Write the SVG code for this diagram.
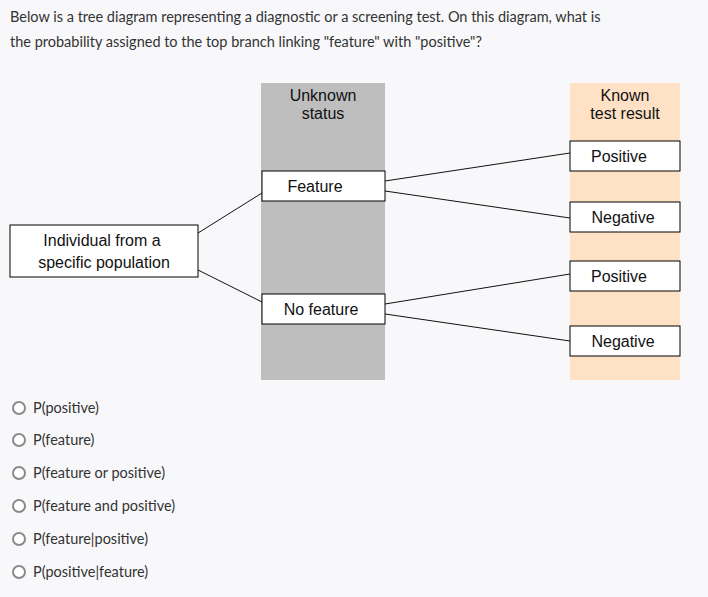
<svg xmlns="http://www.w3.org/2000/svg" width="708" height="597" viewBox="0 0 708 597">
<style>
.q{font-family:Lato,"Liberation Sans",sans-serif;font-size:14.5px;fill:#333}
.t{font-family:"Liberation Sans",Arial,sans-serif;font-size:16px;fill:#111;text-anchor:middle}
.b{fill:#fff;stroke:#000;stroke-width:1}
.c{stroke:#111;stroke-width:1;fill:none}
.r{fill:#fff;stroke:#8a8a8a;stroke-width:2}
</style>
<rect width="708" height="597" fill="#f8f8fa"/>
<text class="q" x="10" y="22">Below is a tree diagram representing a diagnostic or a screening test. On this diagram, what is</text>
<text class="q" x="10" y="47">the probability assigned to the top branch linking "feature" with "positive"?</text>
<rect x="261" y="83" width="124" height="297" fill="#bebebe"/>
<rect x="570" y="83" width="110" height="297" fill="#ffe2c6"/>
<text class="t" x="323" y="101">Unknown</text>
<text class="t" x="323" y="119">status</text>
<text class="t" x="625" y="101">Known</text>
<text class="t" x="625" y="119">test result</text>
<g id="connectors">
<line class="c" x1="198" y1="233" x2="262" y2="193"/>
<line class="c" x1="198" y1="270" x2="262" y2="302"/>
<line class="c" x1="385" y1="181" x2="570" y2="153"/>
<line class="c" x1="385" y1="191" x2="570" y2="218"/>
<line class="c" x1="385" y1="304" x2="570" y2="274"/>
<line class="c" x1="385" y1="314" x2="570" y2="341"/>
</g>
<g id="individual"><rect class="b" x="10" y="225" width="188" height="52"/><text class="t" x="102" y="246">Individual  from a</text><text class="t" x="104" y="268">specific population</text></g>
<g id="feature"><rect class="b" x="262" y="171" width="123" height="30"/><text class="t" x="315" y="192">Feature</text></g>
<g id="nofeature"><rect class="b" x="262" y="294" width="123" height="30"/><text class="t" x="321" y="315">No feature</text></g>
<g id="pos1"><rect class="b" x="570" y="141" width="110" height="30"/><text class="t" x="619" y="162">Positive</text></g>
<g id="neg1"><rect class="b" x="570" y="202" width="110" height="30"/><text class="t" x="623" y="223">Negative</text></g>
<g id="pos2"><rect class="b" x="570" y="261" width="110" height="30"/><text class="t" x="619" y="282">Positive</text></g>
<g id="neg2"><rect class="b" x="570" y="326" width="110" height="30"/><text class="t" x="623" y="347">Negative</text></g>
<g id="options">
<circle class="r" cx="19" cy="408" r="6"/><text class="q" x="33" y="413">P(positive)</text>
<circle class="r" cx="19" cy="440" r="6"/><text class="q" x="33" y="445">P(feature)</text>
<circle class="r" cx="19" cy="473" r="6"/><text class="q" x="33" y="478">P(feature or positive)</text>
<circle class="r" cx="19" cy="506" r="6"/><text class="q" x="33" y="511">P(feature and positive)</text>
<circle class="r" cx="19" cy="539" r="6"/><text class="q" x="33" y="544">P(feature|positive)</text>
<circle class="r" cx="19" cy="572" r="6"/><text class="q" x="33" y="577">P(positive|feature)</text>
</g>
</svg>
